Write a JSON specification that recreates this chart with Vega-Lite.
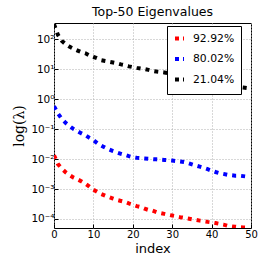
{
  "$schema": "https://vega.github.io/schema/vega-lite/v6.json",
  "autosize": "none",
  "width": 197,
  "height": 205,
  "padding": {"left": 54, "top": 23, "right": 15, "bottom": 38},
  "background": "white",
  "config": {
    "font": "DejaVu Sans",
    "view": {"stroke": "black", "strokeWidth": 1},
    "axis": {"domain": false, "grid": true, "gridColor": "#b0b0b0", "gridDash": [1, 2], "gridWidth": 1, "tickColor": "black", "tickSize": -4, "labelColor": "black", "labelFont": "DejaVu Sans", "labelFontSize": 10, "titleColor": "black", "titleFontWeight": "normal"}
  },
  "title": {"text": "Top-50 Eigenvalues", "fontSize": 12.5, "fontWeight": "normal", "font": "DejaVu Sans", "color": "black", "offset": 5, "anchor": "middle"},
  "data": {"values": [
    {"i":0,"s":"21.04%","v":320},{"i":1,"s":"21.04%","v":140},{"i":2,"s":"21.04%","v":88},{"i":3,"s":"21.04%","v":68},{"i":4,"s":"21.04%","v":56},{"i":5,"s":"21.04%","v":48},{"i":6,"s":"21.04%","v":42},{"i":7,"s":"21.04%","v":37},{"i":8,"s":"21.04%","v":34},{"i":9,"s":"21.04%","v":29},
    {"i":10,"s":"21.04%","v":26},{"i":11,"s":"21.04%","v":23},{"i":12,"s":"21.04%","v":20},{"i":13,"s":"21.04%","v":18.8},{"i":14,"s":"21.04%","v":17.8},{"i":15,"s":"21.04%","v":16.8},{"i":16,"s":"21.04%","v":15.8},{"i":17,"s":"21.04%","v":14.5},{"i":18,"s":"21.04%","v":13.6},{"i":19,"s":"21.04%","v":12.5},
    {"i":20,"s":"21.04%","v":11.8},{"i":21,"s":"21.04%","v":11.1},{"i":22,"s":"21.04%","v":10.6},{"i":23,"s":"21.04%","v":10.1},{"i":24,"s":"21.04%","v":9.5},{"i":25,"s":"21.04%","v":8.8},{"i":26,"s":"21.04%","v":8.4},{"i":27,"s":"21.04%","v":8.1},{"i":28,"s":"21.04%","v":7.8},{"i":29,"s":"21.04%","v":7.4},
    {"i":30,"s":"21.04%","v":7.0},{"i":31,"s":"21.04%","v":6.6},{"i":32,"s":"21.04%","v":6.3},{"i":33,"s":"21.04%","v":6.0},{"i":34,"s":"21.04%","v":5.6},{"i":35,"s":"21.04%","v":5.2},{"i":36,"s":"21.04%","v":4.9},{"i":37,"s":"21.04%","v":4.7},{"i":38,"s":"21.04%","v":4.5},{"i":39,"s":"21.04%","v":4.1},
    {"i":40,"s":"21.04%","v":3.8},{"i":41,"s":"21.04%","v":3.5},{"i":42,"s":"21.04%","v":3.3},{"i":43,"s":"21.04%","v":3.1},{"i":44,"s":"21.04%","v":2.95},{"i":45,"s":"21.04%","v":2.8},{"i":46,"s":"21.04%","v":2.65},{"i":47,"s":"21.04%","v":2.55},{"i":48,"s":"21.04%","v":2.45},{"i":49,"s":"21.04%","v":2.35},
    {"i":0,"s":"80.02%","v":0.58},{"i":1,"s":"80.02%","v":0.33},{"i":2,"s":"80.02%","v":0.22},{"i":3,"s":"80.02%","v":0.16},{"i":4,"s":"80.02%","v":0.125},{"i":5,"s":"80.02%","v":0.1},{"i":6,"s":"80.02%","v":0.085},{"i":7,"s":"80.02%","v":0.072},{"i":8,"s":"80.02%","v":0.062},{"i":9,"s":"80.02%","v":0.051},
    {"i":10,"s":"80.02%","v":0.043},{"i":11,"s":"80.02%","v":0.034},{"i":12,"s":"80.02%","v":0.028},{"i":13,"s":"80.02%","v":0.024},{"i":14,"s":"80.02%","v":0.021},{"i":15,"s":"80.02%","v":0.0185},{"i":16,"s":"80.02%","v":0.0166},{"i":17,"s":"80.02%","v":0.015},{"i":18,"s":"80.02%","v":0.0138},{"i":19,"s":"80.02%","v":0.0125},
    {"i":20,"s":"80.02%","v":0.0115},{"i":21,"s":"80.02%","v":0.011},{"i":22,"s":"80.02%","v":0.0107},{"i":23,"s":"80.02%","v":0.0105},{"i":24,"s":"80.02%","v":0.0102},{"i":25,"s":"80.02%","v":0.01},{"i":26,"s":"80.02%","v":0.0098},{"i":27,"s":"80.02%","v":0.0096},{"i":28,"s":"80.02%","v":0.0094},{"i":29,"s":"80.02%","v":0.0092},
    {"i":30,"s":"80.02%","v":0.0089},{"i":31,"s":"80.02%","v":0.0086},{"i":32,"s":"80.02%","v":0.0083},{"i":33,"s":"80.02%","v":0.008},{"i":34,"s":"80.02%","v":0.0074},{"i":35,"s":"80.02%","v":0.0067},{"i":36,"s":"80.02%","v":0.0061},{"i":37,"s":"80.02%","v":0.0056},{"i":38,"s":"80.02%","v":0.0051},{"i":39,"s":"80.02%","v":0.0046},
    {"i":40,"s":"80.02%","v":0.0041},{"i":41,"s":"80.02%","v":0.0037},{"i":42,"s":"80.02%","v":0.0034},{"i":43,"s":"80.02%","v":0.0032},{"i":44,"s":"80.02%","v":0.003},{"i":45,"s":"80.02%","v":0.0029},{"i":46,"s":"80.02%","v":0.0028},{"i":47,"s":"80.02%","v":0.0028},{"i":48,"s":"80.02%","v":0.0027},{"i":49,"s":"80.02%","v":0.0026},
    {"i":0,"s":"92.92%","v":0.0135},{"i":1,"s":"92.92%","v":0.0068},{"i":2,"s":"92.92%","v":0.0048},{"i":3,"s":"92.92%","v":0.0036},{"i":4,"s":"92.92%","v":0.0029},{"i":5,"s":"92.92%","v":0.0024},{"i":6,"s":"92.92%","v":0.0021},{"i":7,"s":"92.92%","v":0.0018},{"i":8,"s":"92.92%","v":0.0015},{"i":9,"s":"92.92%","v":0.0012},
    {"i":10,"s":"92.92%","v":0.00095},{"i":11,"s":"92.92%","v":0.0008},{"i":12,"s":"92.92%","v":0.00068},{"i":13,"s":"92.92%","v":0.0006},{"i":14,"s":"92.92%","v":0.00054},{"i":15,"s":"92.92%","v":0.00048},{"i":16,"s":"92.92%","v":0.00043},{"i":17,"s":"92.92%","v":0.0004},{"i":18,"s":"92.92%","v":0.00037},{"i":19,"s":"92.92%","v":0.00033},
    {"i":20,"s":"92.92%","v":0.0003},{"i":21,"s":"92.92%","v":0.00027},{"i":22,"s":"92.92%","v":0.00025},{"i":23,"s":"92.92%","v":0.00022},{"i":24,"s":"92.92%","v":0.0002},{"i":25,"s":"92.92%","v":0.00019},{"i":26,"s":"92.92%","v":0.00017},{"i":27,"s":"92.92%","v":0.000158},{"i":28,"s":"92.92%","v":0.000148},{"i":29,"s":"92.92%","v":0.000138},
    {"i":30,"s":"92.92%","v":0.00013},{"i":31,"s":"92.92%","v":0.000123},{"i":32,"s":"92.92%","v":0.000115},{"i":33,"s":"92.92%","v":0.00011},{"i":34,"s":"92.92%","v":0.000104},{"i":35,"s":"92.92%","v":0.000098},{"i":36,"s":"92.92%","v":0.000093},{"i":37,"s":"92.92%","v":0.000088},{"i":38,"s":"92.92%","v":0.000084},{"i":39,"s":"92.92%","v":0.00008},
    {"i":40,"s":"92.92%","v":0.000077},{"i":41,"s":"92.92%","v":0.000073},{"i":42,"s":"92.92%","v":0.000069},{"i":43,"s":"92.92%","v":0.000065},{"i":44,"s":"92.92%","v":0.00006},{"i":45,"s":"92.92%","v":0.000057},{"i":46,"s":"92.92%","v":0.000055},{"i":47,"s":"92.92%","v":0.000053},{"i":48,"s":"92.92%","v":0.000052},{"i":49,"s":"92.92%","v":0.000051}
  ]},
  "mark": {"type": "line", "strokeWidth": 4, "strokeDash": [4, 5], "strokeCap": "butt", "clip": true},
  "encoding": {
    "x": {"field": "i", "type": "quantitative", "scale": {"domain": [0, 50], "nice": false, "zero": false},
      "axis": {"values": [0, 10, 20, 30, 40, 50], "title": "index", "titleFontSize": 13, "titleFont": "DejaVu Sans", "titlePadding": 3, "labelPadding": 5, "labelFlush": false}},
    "y": {"field": "v", "type": "quantitative", "scale": {"type": "log", "domain": [0.00005, 350], "nice": false},
      "axis": {"values": [0.0001, 0.001, 0.01, 0.1, 1, 10, 100], "title": "log(λ)", "titleFont": "DejaVu Serif", "titleFontSize": 14, "titlePadding": 4, "labelPadding": 4, "labelFontSize": 10.5,
        "labelExpr": "round(log(datum.value)/LN10) == 2 ? '10²' : round(log(datum.value)/LN10) == 1 ? '10¹' : round(log(datum.value)/LN10) == 0 ? '10⁰' : round(log(datum.value)/LN10) == -1 ? '10⁻¹' : round(log(datum.value)/LN10) == -2 ? '10⁻²' : round(log(datum.value)/LN10) == -3 ? '10⁻³' : '10⁻⁴'"}},
    "color": {"field": "s", "type": "nominal", "sort": ["92.92%", "80.02%", "21.04%"],
      "scale": {"domain": ["92.92%", "80.02%", "21.04%"], "range": ["#ff0000", "#0000ff", "#000000"]},
      "legend": {"title": null, "orient": "none", "legendX": 113, "legendY": 3, "symbolType": "stroke", "symbolStrokeWidth": 4, "symbolDash": [4, 4], "symbolSize": 81, "labelFontSize": 10.8, "labelFont": "DejaVu Sans", "labelColor": "black", "labelOffset": 7, "rowPadding": 3.5, "padding": 6, "strokeColor": "black", "fillColor": "white", "cornerRadius": 0}}
  }
}
